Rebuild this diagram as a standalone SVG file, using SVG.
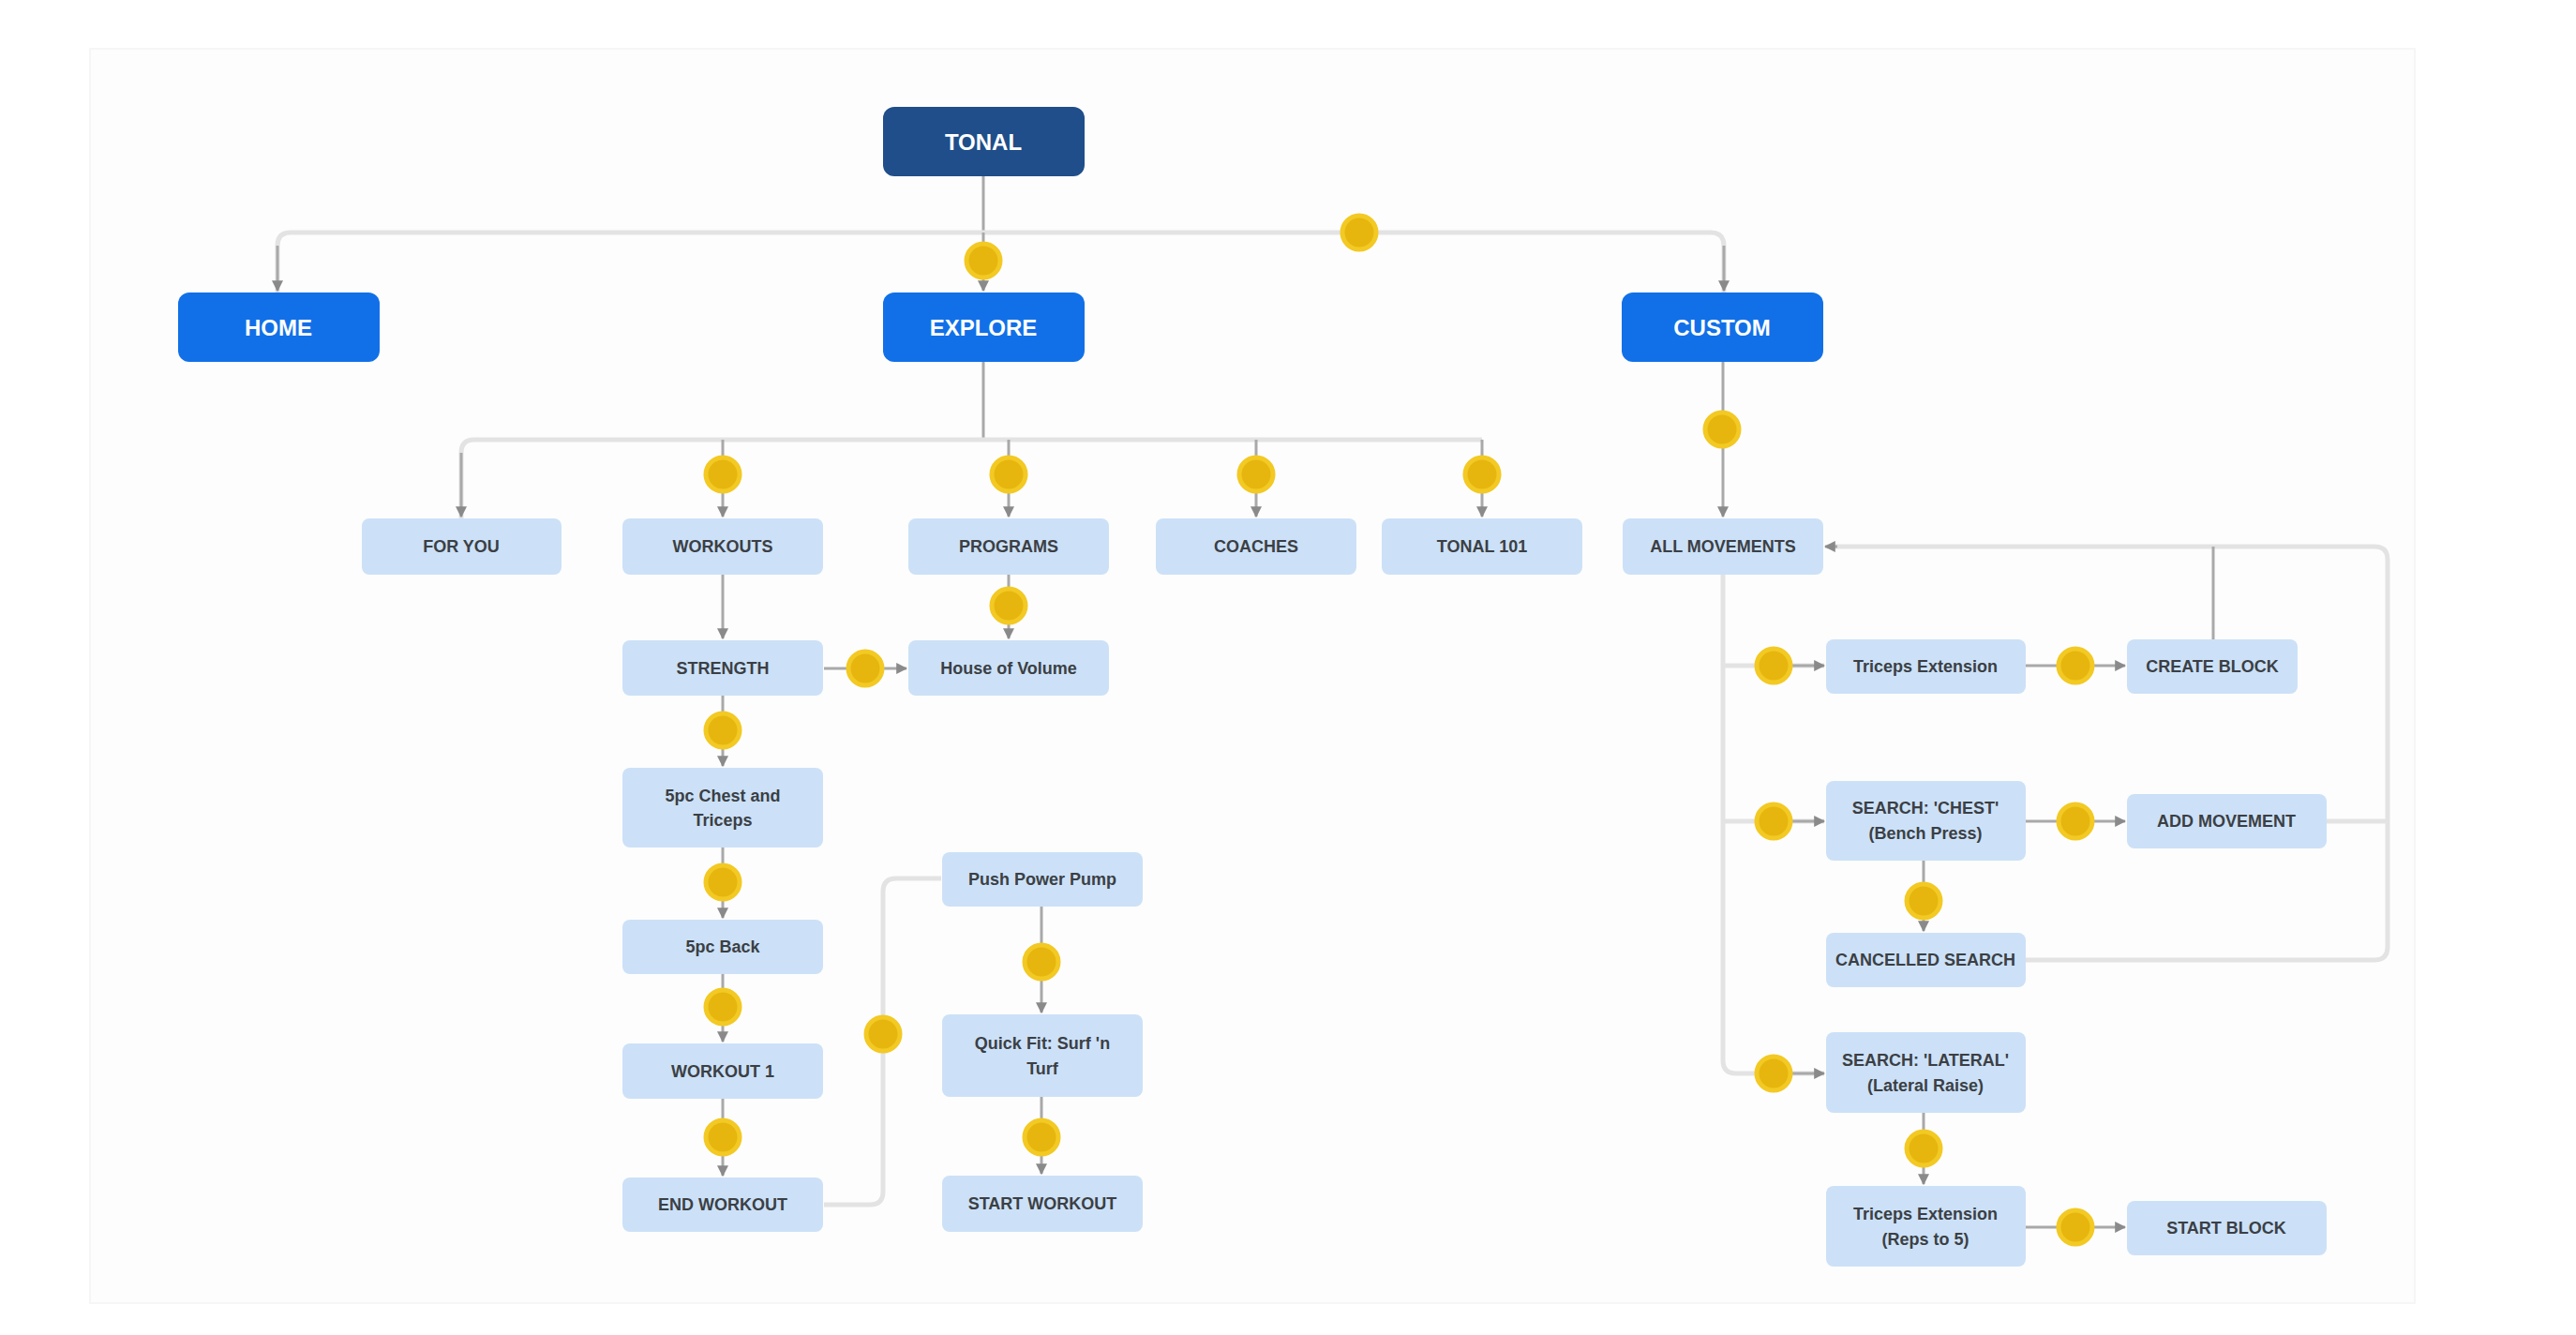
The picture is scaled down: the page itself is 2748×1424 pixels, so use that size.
<svg xmlns="http://www.w3.org/2000/svg" width="2748" height="1424" viewBox="0 0 2748 1424">
<defs>
<style>
.bg{fill:#ffffff}
.panel{fill:#fdfdfd;stroke:#f6f6f6;stroke-width:2}
.root{fill:#1f4e8a}
.pri{fill:#1170e8}
.sec{fill:#cce1f7}
.pt{font-family:"Liberation Sans",Arial,sans-serif;font-size:24px;font-weight:bold;fill:#ffffff;text-anchor:middle;dominant-baseline:central}
.st{font-family:"Liberation Sans",Arial,sans-serif;font-size:18px;font-weight:bold;fill:#3b3f45;text-anchor:middle;dominant-baseline:central}
.dot{fill:#e6b60e;stroke:#f3c923;stroke-width:5}
.c1{fill:none;stroke:#e3e3e3;stroke-width:5;stroke-linejoin:round}
.c2{fill:none;stroke:#a9a9a9;stroke-width:3}
</style>
<marker id="ah" viewBox="0 0 10 10" refX="9" refY="5" markerWidth="4" markerHeight="4" orient="auto-start-reverse">
<path d="M0,0 L10,5 L0,10 z" fill="#8a8a8a"/>
</marker>
</defs>
<rect class="bg" x="0" y="0" width="2748" height="1424"/>
<rect class="panel" x="96" y="52" width="2480" height="1338"/>

<g id="connectors">
<path class="c2" d="M1049,188 V248"/>
<path class="c1" d="M296,312 V262 Q296,248 310,248 H1825 Q1839,248 1839,262 V312"/>
<path class="c2" d="M1049,248 V310" marker-end="url(#ah)"/>
<path class="c2" d="M296,262 V310" marker-end="url(#ah)"/>
<path class="c2" d="M1839,262 V310" marker-end="url(#ah)"/>
<path class="c2" d="M1049,386 V469"/>
<path class="c1" d="M492,553 V483 Q492,469 506,469 H1581"/>
<path class="c2" d="M492,483 V551" marker-end="url(#ah)"/>
<path class="c2" d="M771,469 V551" marker-end="url(#ah)"/>
<path class="c2" d="M1076,469 V551" marker-end="url(#ah)"/>
<path class="c2" d="M1340,469 V551" marker-end="url(#ah)"/>
<path class="c2" d="M1581,469 V551" marker-end="url(#ah)"/>
<path class="c2" d="M1838,386 V551" marker-end="url(#ah)"/>
<path class="c2" d="M771,613 V681" marker-end="url(#ah)"/>
<path class="c2" d="M879,713 H967" marker-end="url(#ah)"/>
<path class="c2" d="M1076,613 V681" marker-end="url(#ah)"/>
<path class="c2" d="M771,742 V817" marker-end="url(#ah)"/>
<path class="c2" d="M771,904 V979" marker-end="url(#ah)"/>
<path class="c2" d="M771,1039 V1111" marker-end="url(#ah)"/>
<path class="c2" d="M771,1172 V1254" marker-end="url(#ah)"/>
<path class="c1" d="M879,1285 H928 Q942,1285 942,1271 V951 Q942,937 956,937 H1004"/>
<path class="c2" d="M1111,967 V1080" marker-end="url(#ah)"/>
<path class="c2" d="M1111,1170 V1252" marker-end="url(#ah)"/>
<path class="c1" d="M1838,613 V1131 Q1838,1145 1852,1145 H1946"/>
<path class="c1" d="M1838,710 H1946"/>
<path class="c1" d="M1838,876 H1946"/>
<path class="c2" d="M1905,710 H1946" marker-end="url(#ah)"/>
<path class="c2" d="M1905,876 H1946" marker-end="url(#ah)"/>
<path class="c2" d="M1905,1145 H1946" marker-end="url(#ah)"/>
<path class="c2" d="M2161,710 H2267" marker-end="url(#ah)"/>
<path class="c2" d="M2161,876 H2267" marker-end="url(#ah)"/>
<path class="c2" d="M2052,918 V993" marker-end="url(#ah)"/>
<path class="c2" d="M2052,1187 V1263" marker-end="url(#ah)"/>
<path class="c2" d="M2161,1309 H2267" marker-end="url(#ah)"/>
<path class="c1" d="M2161,1024 H2533 Q2547,1024 2547,1010 V597 Q2547,583 2533,583 H1949"/>
<path class="c1" d="M2482,876 H2547"/>
<path class="c2" d="M2361,583 V682"/>
<path class="c2" d="M1960,583 H1947" marker-end="url(#ah)"/>
</g>

<g id="n-tonal"><rect class="root" x="942" y="114" width="215" height="74" rx="12"/><text class="pt" x="1049" y="151">TONAL</text></g>
<g id="n-home"><rect class="pri" x="190" y="312" width="215" height="74" rx="12"/><text class="pt" x="297" y="349">HOME</text></g>
<g id="n-explore"><rect class="pri" x="942" y="312" width="215" height="74" rx="12"/><text class="pt" x="1049" y="349">EXPLORE</text></g>
<g id="n-custom"><rect class="pri" x="1730" y="312" width="215" height="74" rx="12"/><text class="pt" x="1837" y="349">CUSTOM</text></g>

<g id="n-foryou"><rect class="sec" x="386" y="553" width="213" height="60" rx="8"/><text class="st" x="492" y="583">FOR YOU</text></g>
<g id="n-workouts"><rect class="sec" x="664" y="553" width="214" height="60" rx="8"/><text class="st" x="771" y="583">WORKOUTS</text></g>
<g id="n-programs"><rect class="sec" x="969" y="553" width="214" height="60" rx="8"/><text class="st" x="1076" y="583">PROGRAMS</text></g>
<g id="n-coaches"><rect class="sec" x="1233" y="553" width="214" height="60" rx="8"/><text class="st" x="1340" y="583">COACHES</text></g>
<g id="n-tonal101"><rect class="sec" x="1474" y="553" width="214" height="60" rx="8"/><text class="st" x="1581" y="583">TONAL 101</text></g>
<g id="n-allmov"><rect class="sec" x="1731" y="553" width="214" height="60" rx="8"/><text class="st" x="1838" y="583">ALL MOVEMENTS</text></g>

<g id="n-strength"><rect class="sec" x="664" y="683" width="214" height="59" rx="8"/><text class="st" x="771" y="713">STRENGTH</text></g>
<g id="n-house"><rect class="sec" x="969" y="683" width="214" height="59" rx="8"/><text class="st" x="1076" y="713">House of Volume</text></g>
<g id="n-chest"><rect class="sec" x="664" y="819" width="214" height="85" rx="8"/><text class="st" x="771" y="849">5pc Chest and</text><text class="st" x="771" y="875">Triceps</text></g>
<g id="n-back"><rect class="sec" x="664" y="981" width="214" height="58" rx="8"/><text class="st" x="771" y="1010">5pc Back</text></g>
<g id="n-workout1"><rect class="sec" x="664" y="1113" width="214" height="59" rx="8"/><text class="st" x="771" y="1143">WORKOUT 1</text></g>
<g id="n-endworkout"><rect class="sec" x="664" y="1256" width="214" height="58" rx="8"/><text class="st" x="771" y="1285">END WORKOUT</text></g>

<g id="n-push"><rect class="sec" x="1005" y="909" width="214" height="58" rx="8"/><text class="st" x="1112" y="938">Push Power Pump</text></g>
<g id="n-quick"><rect class="sec" x="1005" y="1082" width="214" height="88" rx="8"/><text class="st" x="1112" y="1113">Quick Fit: Surf 'n</text><text class="st" x="1112" y="1140">Turf</text></g>
<g id="n-startworkout"><rect class="sec" x="1005" y="1254" width="214" height="60" rx="8"/><text class="st" x="1112" y="1284">START WORKOUT</text></g>

<g id="n-triceps"><rect class="sec" x="1948" y="682" width="213" height="58" rx="8"/><text class="st" x="2054" y="711">Triceps Extension</text></g>
<g id="n-createblock"><rect class="sec" x="2269" y="682" width="182" height="58" rx="8"/><text class="st" x="2360" y="711">CREATE BLOCK</text></g>
<g id="n-searchchest"><rect class="sec" x="1948" y="833" width="213" height="85" rx="8"/><text class="st" x="2054" y="862">SEARCH: 'CHEST'</text><text class="st" x="2054" y="889">(Bench Press)</text></g>
<g id="n-addmov"><rect class="sec" x="2269" y="847" width="213" height="58" rx="8"/><text class="st" x="2375" y="876">ADD MOVEMENT</text></g>
<g id="n-cancel"><rect class="sec" x="1948" y="995" width="213" height="58" rx="8"/><text class="st" x="2054" y="1024">CANCELLED SEARCH</text></g>
<g id="n-searchlat"><rect class="sec" x="1948" y="1101" width="213" height="86" rx="8"/><text class="st" x="2054" y="1131">SEARCH: 'LATERAL'</text><text class="st" x="2054" y="1158">(Lateral Raise)</text></g>
<g id="n-tricepsreps"><rect class="sec" x="1948" y="1265" width="213" height="86" rx="8"/><text class="st" x="2054" y="1295">Triceps Extension</text><text class="st" x="2054" y="1322">(Reps to 5)</text></g>
<g id="n-startblock"><rect class="sec" x="2269" y="1281" width="213" height="58" rx="8"/><text class="st" x="2375" y="1310">START BLOCK</text></g>

<g id="dots">
<circle class="dot" cx="1049" cy="278" r="18"/>
<circle class="dot" cx="1450" cy="248" r="18"/>
<circle class="dot" cx="771" cy="506" r="18"/>
<circle class="dot" cx="1076" cy="506" r="18"/>
<circle class="dot" cx="1340" cy="506" r="18"/>
<circle class="dot" cx="1581" cy="506" r="18"/>
<circle class="dot" cx="1837" cy="458" r="18"/>
<circle class="dot" cx="923" cy="713" r="18"/>
<circle class="dot" cx="1076" cy="646" r="18"/>
<circle class="dot" cx="771" cy="779" r="18"/>
<circle class="dot" cx="771" cy="941" r="18"/>
<circle class="dot" cx="771" cy="1074" r="18"/>
<circle class="dot" cx="771" cy="1213" r="18"/>
<circle class="dot" cx="942" cy="1103" r="18"/>
<circle class="dot" cx="1111" cy="1026" r="18"/>
<circle class="dot" cx="1111" cy="1213" r="18"/>
<circle class="dot" cx="1892" cy="710" r="18"/>
<circle class="dot" cx="1892" cy="876" r="18"/>
<circle class="dot" cx="1892" cy="1145" r="18"/>
<circle class="dot" cx="2214" cy="710" r="18"/>
<circle class="dot" cx="2214" cy="876" r="18"/>
<circle class="dot" cx="2052" cy="961" r="18"/>
<circle class="dot" cx="2052" cy="1225" r="18"/>
<circle class="dot" cx="2214" cy="1309" r="18"/>
</g>
</svg>
